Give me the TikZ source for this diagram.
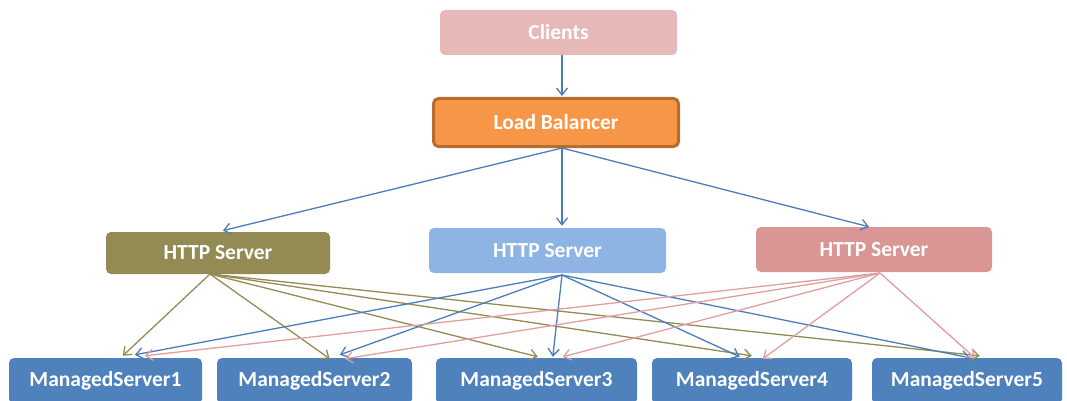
\documentclass[tikz,border=0pt]{standalone}
\usepackage{fontspec}
\setmainfont{Carlito}
\usetikzlibrary{arrows.meta,calc}

\definecolor{clientpink}{HTML}{E6B9B8}
\definecolor{lbfill}{HTML}{F79646}
\definecolor{lbdraw}{HTML}{B66D31}
\definecolor{olivebox}{HTML}{948A54}
\definecolor{bluebox}{HTML}{8EB4E3}
\definecolor{pinkbox}{HTML}{D99694}
\definecolor{msblue}{HTML}{4F81BD}
\definecolor{lineblue}{HTML}{4A7EBB}
\definecolor{lineolive}{HTML}{948A54}
\definecolor{linepink}{HTML}{E09E9C}

\tikzset{
  box/.style={rounded corners=5pt, inner sep=0pt, text=white,
    font=\bfseries\fontsize{21.5}{24}\selectfont},
  link/.style={line width=1.3pt, -{Straight Barb[length=7pt,width=11pt,line width=1.3pt]}},
  bluelink/.style={link, draw=lineblue},
  olivelink/.style={link, draw=lineolive},
  pinklink/.style={link, draw=linepink},
}

\begin{document}
\begin{tikzpicture}[x=1pt, y=-1pt]
  \useasboundingbox (0,0) rectangle (1067,401);
  \clip (0,0) rectangle (1067,401);

  % top tier
  \node[box, fill=clientpink, minimum width=237pt, minimum height=45pt] (cl) at (558.5,32.5) {Clients};
  \node[box, fill=lbfill, draw=lbdraw, line width=3pt, minimum width=245pt, minimum height=48pt] (lb) at (556,122.5) {Load Balancer};

  % web tier
  \node[box, fill=olivebox, minimum width=224pt, minimum height=42pt] (h1) at (218,253) {HTTP Server};
  \node[box, fill=bluebox, minimum width=237pt, minimum height=45pt] (h2) at (547.5,250.5) {HTTP Server};
  \node[box, fill=pinkbox, minimum width=236pt, minimum height=45pt] (h3) at (874,249.5) {HTTP Server};

  % application tier
  \node[box, fill=msblue, minimum width=193pt, minimum height=46pt] (ms1) at (105.5,381) {ManagedServer1};
  \node[box, fill=msblue, minimum width=195pt, minimum height=46pt] (ms2) at (314.5,381) {ManagedServer2};
  \node[box, fill=msblue, minimum width=201pt, minimum height=46pt] (ms3) at (536.5,381) {ManagedServer3};
  \node[box, fill=msblue, minimum width=200pt, minimum height=46pt] (ms4) at (752,381) {ManagedServer4};
  \node[box, fill=msblue, minimum width=190pt, minimum height=46pt] (ms5) at (967,381) {ManagedServer5};

  % connector origins
  \coordinate (lbout) at (562,148);
  \coordinate (h1o) at (210,274);
  \coordinate (h2o) at (562,275);
  \coordinate (h3o) at (880,273);

  % clients -> balancer -> web servers
  \draw[bluelink] (cl.south -| lbout) -- ($(lb.north -| lbout)+(0,-1)$);
  \draw[bluelink, shorten >=5pt] (lbout) -- (h1.north);
  \draw[bluelink, shorten >=2pt] (lbout) -- (h2.north -| lbout);
  \draw[bluelink] (lbout) -- ($(h3.north)+(-5,0)$);

  % olive web server -> managed servers
  \draw[olivelink] (h1o) -- ($(ms1.north west)+(114,-2)$);
  \draw[olivelink] (h1o) -- ($(ms2.north west)+(113,1)$);
  \draw[olivelink] (h1o) -- ($(ms3.north west)+(102,-1)$);
  \draw[olivelink] (h1o) -- ($(ms4.north west)+(100,-2)$);
  \draw[olivelink] (h1o) -- ($(ms5.north west)+(108,-2)$);

  % blue web server -> managed servers
  \draw[bluelink] (h2o) -- ($(ms1.north west)+(126,-3)$);
  \draw[bluelink] (h2o) -- ($(ms2.north west)+(123,-3)$);
  \draw[bluelink] (h2o) -- ($(ms3.north west)+(117,-1)$);
  \draw[bluelink] (h2o) -- ($(ms4.north west)+(88,-1)$);
  \draw[bluelink] (h2o) -- ($(ms5.north west)+(98,0)$);

  % pink web server -> managed servers
  \draw[pinklink] (h3o) -- ($(ms1.north west)+(136,-2)$);
  \draw[pinklink] (h3o) -- ($(ms2.north west)+(128,1)$);
  \draw[pinklink] (h3o) -- ($(ms3.north west)+(127,-1)$);
  \draw[pinklink] (h3o) -- ($(ms4.north west)+(111,1)$);
  \draw[pinklink] (h3o) -- ($(ms5.north west)+(103,0)$);
\end{tikzpicture}
\end{document}
